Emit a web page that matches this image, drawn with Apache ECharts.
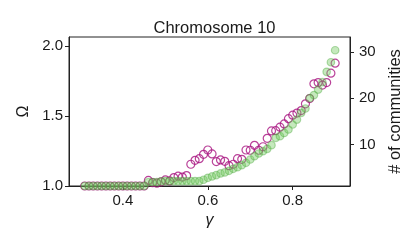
<!DOCTYPE html>
<html>
<head>
<meta charset="utf-8">
<script src="https://cdn.jsdelivr.net/npm/echarts@6/dist/echarts.min.js"></script>
<style>html,body{margin:0;padding:0;background:#fff}#c{width:415px;height:249px}</style>
</head>
<body>
<div id="c"></div>
<script>
const gamma = [0.31,0.32,0.33,0.34,0.35,0.36,0.37,0.38,0.39,0.40,0.41,0.42,0.43,0.44,0.45,
  0.46,0.47,0.48,0.49,0.50,0.51,0.52,0.53,0.54,0.55,0.56,0.57,0.58,0.59,0.60,
  0.61,0.62,0.63,0.64,0.65,0.66,0.67,0.68,0.69,0.70,0.71,0.72,0.73,0.74,0.75,
  0.76,0.77,0.78,0.79,0.80,0.81,0.82,0.83,0.84,0.85,0.86,0.87,0.88,0.89,0.90];
const omega = [1,1,1,1,1,1,1,1,1,1,1,1,1,1,1,
  1.04,1.024,1.02,1.03,1.043,1.036,1.06,1.07,1.064,1.074,1.155,1.183,1.195,1.226,1.257,
  1.229,1.174,1.186,1.176,1.145,1.155,1.195,1.19,1.257,1.255,1.29,1.255,1.28,1.34,1.393,
  1.395,1.42,1.443,1.48,1.505,1.52,1.538,1.586,1.624,1.729,1.738,1.72,1.738,1.805,1.876];
const communities = [1,1,1,1,1,1,1,1,1,1,1,1,1,1,1,
  1.84,1.84,1.84,1.99,2.06,2.06,2.06,2.06,2.06,2.06,2.06,2.06,2.06,2.35,2.78,
  3.07,3.36,3.72,3.94,4.3,4.73,5.09,5.52,6.03,6.75,7.47,8.05,8.56,9.06,9.86,
  11.44,11.8,12.5,13.25,14.33,15.4,16.86,17.8,20.04,20.7,21.9,23.5,25.74,27.83,30.43];
const xTicks = [0.4, 0.6, 0.8];
const yLeftTicks = [1.0, 1.5, 2.0];
const yRightTicks = [10, 20, 30];

const font = 'Liberation Sans, Arial, sans-serif';
const axisCol = '#222';
const txt = '#1a1a1a';
const chart = echarts.init(document.getElementById('c'), null, {renderer: 'canvas'});
chart.setOption({
  animation: false,
  title: {text: 'Chromosome 10', left: 209.5, top: 15, textAlign: 'center',
    textStyle: {fontFamily: font, fontSize: 16.5, fontWeight: 'normal', color: txt}},
  grid: {left: 69, right: 65, top: 37, bottom: 63, show: true, borderColor: axisCol, borderWidth: 1, backgroundColor: 'transparent'},
  xAxis: {type: 'value', min: 0.273, max: 0.935,
    name: 'γ', nameLocation: 'middle', nameGap: 26,
    nameTextStyle: {fontFamily: font, fontSize: 16, fontStyle: 'italic', color: txt},
    axisLine: {show: true, lineStyle: {color: axisCol}},
    axisTick: {show: true, length: 4, lineStyle: {color: axisCol}, customValues: xTicks},
    axisLabel: {fontFamily: font, fontSize: 15, color: txt, margin: 7, customValues: xTicks, formatter: v => v.toFixed(1)},
    splitLine: {show: false}},
  yAxis: [
    {type: 'value', min: 1.0, max: 2.063, position: 'left',
      name: 'Ω', nameLocation: 'middle', nameGap: 37,
      nameTextStyle: {fontFamily: font, fontSize: 16, color: txt},
      axisLine: {show: true, lineStyle: {color: axisCol}},
      axisTick: {show: true, length: 4, lineStyle: {color: axisCol}, customValues: yLeftTicks},
      axisLabel: {fontFamily: font, fontSize: 15, color: txt, margin: 6, customValues: yLeftTicks, formatter: v => v.toFixed(1)},
      splitLine: {show: false}},
    {type: 'value', min: 1, max: 33.3, position: 'right',
      name: '# of communities', nameLocation: 'middle', nameGap: 30,
      nameTextStyle: {fontFamily: font, fontSize: 16.5, color: txt},
      axisLine: {show: true, lineStyle: {color: axisCol}},
      axisTick: {show: true, length: 4, lineStyle: {color: axisCol}, customValues: yRightTicks},
      axisLabel: {fontFamily: font, fontSize: 15, color: txt, margin: 9, customValues: yRightTicks},
      splitLine: {show: false}}
  ],
  series: [
    {type: 'scatter', yAxisIndex: 0, symbol: 'circle', symbolSize: 8,
      data: gamma.map((g, i) => [g, omega[i]]),
      itemStyle: {color: 'rgba(255,255,255,0)', borderColor: '#a8137f', borderWidth: 1.2}},
    {type: 'scatter', yAxisIndex: 1, symbol: 'circle', symbolSize: 7.5,
      data: gamma.map((g, i) => [g, communities[i]]),
      itemStyle: {color: 'rgba(110,200,90,0.5)', borderColor: 'rgba(70,165,55,0.5)', borderWidth: 1.2}}
  ]
});
</script>
</body>
</html>
